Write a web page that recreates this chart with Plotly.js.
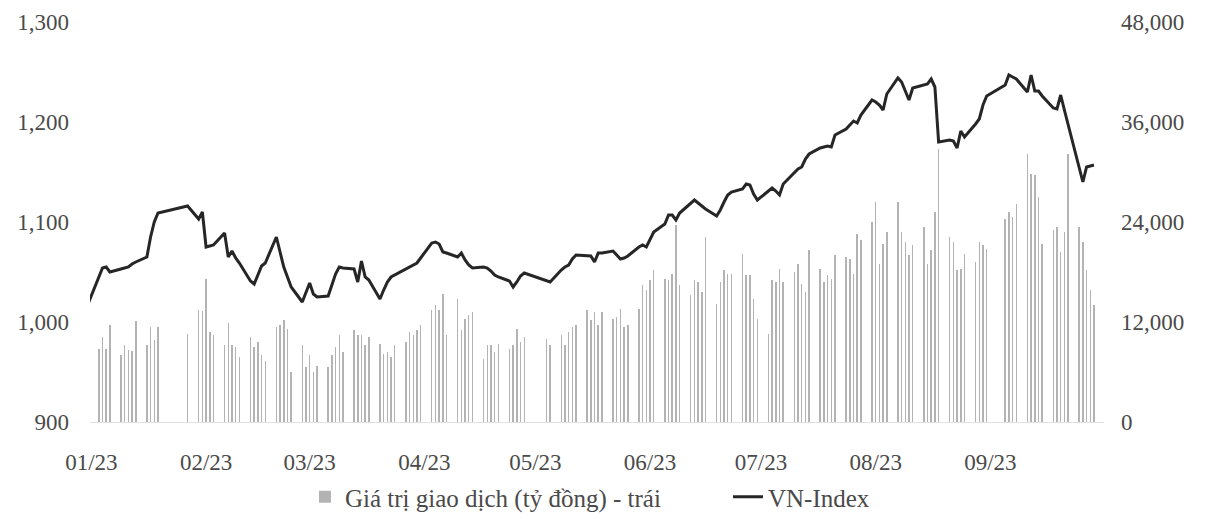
<!DOCTYPE html>
<html>
<head>
<meta charset="utf-8">
<script src="https://cdn.plot.ly/plotly-3.0.1.min.js"></script>
<style>html,body{margin:0;padding:0;background:#fff;}#chart{width:1211px;height:519px;}</style>
</head>
<body>
<div id="chart"></div>
<script>
// Trading days (Dec 30, 2022 – Sep 29, 2023)
const dates = [
  '2022-12-30',
  '2023-01-03','2023-01-04','2023-01-05','2023-01-06','2023-01-09','2023-01-10','2023-01-11','2023-01-12','2023-01-13','2023-01-16','2023-01-17','2023-01-18','2023-01-19','2023-01-27','2023-01-30','2023-01-31',
  '2023-02-01','2023-02-02','2023-02-03','2023-02-06','2023-02-07','2023-02-08','2023-02-09','2023-02-10','2023-02-13','2023-02-14','2023-02-15','2023-02-16','2023-02-17','2023-02-20','2023-02-21','2023-02-22','2023-02-23','2023-02-24','2023-02-27','2023-02-28',
  '2023-03-01','2023-03-02','2023-03-03','2023-03-06','2023-03-07','2023-03-08','2023-03-09','2023-03-10','2023-03-13','2023-03-14','2023-03-15','2023-03-16','2023-03-17','2023-03-20','2023-03-21','2023-03-22','2023-03-23','2023-03-24','2023-03-27','2023-03-28','2023-03-29','2023-03-30','2023-03-31',
  '2023-04-03','2023-04-04','2023-04-05','2023-04-06','2023-04-07','2023-04-10','2023-04-11','2023-04-12','2023-04-13','2023-04-14','2023-04-17','2023-04-18','2023-04-19','2023-04-20','2023-04-21','2023-04-24','2023-04-25','2023-04-26','2023-04-27','2023-04-28',
  '2023-05-04','2023-05-05','2023-05-08','2023-05-09','2023-05-10','2023-05-11','2023-05-12','2023-05-15','2023-05-16','2023-05-17','2023-05-18','2023-05-19','2023-05-22','2023-05-23','2023-05-24','2023-05-25','2023-05-26','2023-05-29','2023-05-30','2023-05-31',
  '2023-06-01','2023-06-02','2023-06-05','2023-06-06','2023-06-07','2023-06-08','2023-06-09','2023-06-12','2023-06-13','2023-06-14','2023-06-15','2023-06-16','2023-06-19','2023-06-20','2023-06-21','2023-06-22','2023-06-23','2023-06-26','2023-06-27','2023-06-28','2023-06-29','2023-06-30',
  '2023-07-03','2023-07-04','2023-07-05','2023-07-06','2023-07-07','2023-07-10','2023-07-11','2023-07-12','2023-07-13','2023-07-14','2023-07-17','2023-07-18','2023-07-19','2023-07-20','2023-07-21','2023-07-24','2023-07-25','2023-07-26','2023-07-27','2023-07-28','2023-07-31',
  '2023-08-01','2023-08-02','2023-08-03','2023-08-04','2023-08-07','2023-08-08','2023-08-09','2023-08-10','2023-08-11','2023-08-14','2023-08-15','2023-08-16','2023-08-17','2023-08-18','2023-08-21','2023-08-22','2023-08-23','2023-08-24','2023-08-25','2023-08-28','2023-08-29','2023-08-30','2023-08-31',
  '2023-09-05','2023-09-06','2023-09-07','2023-09-08','2023-09-11','2023-09-12','2023-09-13','2023-09-14','2023-09-15','2023-09-18','2023-09-19','2023-09-20','2023-09-21','2023-09-22','2023-09-25','2023-09-26','2023-09-27','2023-09-28','2023-09-29'
];

// VN-Index (left axis)
const vnIndex = [
  1008,
  1044,1054,1055,1050,1053,1054,1055,1058,1060,1065,1085,1100,1109,1116,1103,1110,
  1075,1076,1077,1089,1065,1071,1064,1059,1041,1038,1047,1056,1059,1085,1070,1055,1045,1035,1020,1030,
  1039,1028,1025,1026,1036,1048,1055,1054,1053,1040,1061,1045,1042,1023,1032,1040,1045,1047,1053,1055,1057,1059,1064,
  1079,1080,1078,1070,1069,1065,1069,1062,1057,1054,1055,1054,1051,1047,1045,1041,1035,1040,1046,1049,
  1041,1040,1052,1055,1057,1063,1067,1066,1066,1060,1069,1069,1071,1067,1063,1064,1066,1075,1077,1075,
  1083,1090,1098,1107,1107,1102,1109,1119,1122,1119,1116,1113,1106,1112,1120,1127,1130,1133,1138,1137,1128,1122,
  1131,1134,1131,1127,1138,1150,1153,1155,1163,1168,1174,1175,1176,1175,1187,1193,1197,1201,1199,1207,1222,
  1220,1217,1212,1228,1244,1240,1230,1222,1234,1237,1238,1243,1235,1180,1182,1181,1174,1191,1185,1198,1203,1217,1226,
  1237,1247,1245,1243,1230,1247,1231,1231,1226,1214,1213,1227,1212,1198,1155,1140,1155,1156,1157
];

// Trading value, billion VND (right axis)
const tradingValue = [
  null,
  8760,10200,8760,11640,8040,9240,8640,8520,12120,9240,11400,9840,11400,10560,13440,13320,
  17160,10800,10440,9240,11880,9240,9000,7800,10200,9000,9600,8040,7320,11400,11640,12240,11160,6000,9240,6600,
  8040,6000,6720,6600,8040,9000,10440,8400,11040,10440,10440,9240,10200,9360,8160,8400,7800,9240,9600,10800,10440,11040,11640,
  13440,14040,13440,15360,10440,14760,11040,12360,12840,13200,7560,9240,9240,8400,9360,8760,9240,11160,9600,10200,
  9960,9240,10440,9240,10800,11400,11640,13440,12240,13200,11640,13200,12360,12600,13560,11400,11640,13560,16440,15840,
  17040,18240,17160,17040,17760,23640,16440,15240,17040,16800,15600,22200,14160,16800,18240,17760,17760,20160,17640,17640,14760,12360,
  10560,17040,16800,18360,16800,18000,18960,16560,15600,20640,18360,16800,17640,17160,20040,19800,19560,17760,22560,21840,24000,
  26400,18960,21360,22800,26400,22800,21600,20040,21240,23400,18960,20640,25200,32760,22200,21600,18240,18360,20160,19200,21600,21240,20760,
  24360,25200,24600,26160,32160,29760,29640,27000,21360,23040,23400,20400,22800,32160,23400,21600,18240,15840,14040
];

// Month tick positions shown on the x axis
const monthTicks = ['2023-01-01','2023-02-01','2023-03-01','2023-04-01','2023-05-01','2023-06-01','2023-07-01','2023-08-01','2023-09-01'];
const monthLabels = ['01/23','02/23','03/23','04/23','05/23','06/23','07/23','08/23','09/23'];

const barName = 'Giá trị giao dịch (tỷ đồng) - trái';
const lineName = 'VN-Index';

const font = {family: 'Liberation Serif, Times New Roman, serif', size: 23, color: '#4a4a4a'};
const legendFont = {family: 'Liberation Serif, Times New Roman, serif', size: 25, color: '#4a4a4a'};

const traces = [
  {
    type: 'bar', x: dates, y: tradingValue, name: barName, yaxis: 'y',
    width: 0.4 * 86400000,
    marker: {color: '#b3b3b3', line: {width: 0}},
    hoverinfo: 'x+y'
  },
  {
    type: 'scatter', mode: 'lines', x: dates, y: vnIndex, name: lineName, yaxis: 'y2',
    line: {color: '#262626', width: 3}
  }
];

const layout = {
  width: 1211, height: 519,
  margin: {l: 90, r: 107, t: 22, b: 97, autoexpand: false},
  paper_bgcolor: '#ffffff', plot_bgcolor: '#ffffff',
  font: font,
  showlegend: true,
  bargap: 0,
  xaxis: {
    type: 'date', automargin: false,
    range: ['2022-12-31 15:00', '2023-10-01 17:00'],
    tickmode: 'array', tickvals: monthTicks, ticktext: monthLabels,
    showgrid: false, zeroline: false,
    showline: true, linecolor: '#e0e0e0', linewidth: 1,
    ticks: '', ticklabelstandoff: 19,
    tickfont: font
  },
  yaxis: {
    side: 'right', range: [0, 48000], dtick: 12000, tickformat: ',d', automargin: false,
    showgrid: false, zeroline: false, showline: false, ticks: '',
    ticklabelstandoff: 16, tickfont: font
  },
  yaxis2: {
    side: 'left', overlaying: 'y', range: [900, 1300], dtick: 100, tickformat: ',d', automargin: false,
    showgrid: false, zeroline: false, showline: false, ticks: '',
    ticklabelstandoff: 20, tickfont: font
  },
  legend: {
    orientation: 'h', x: 0.212, xanchor: 'left', y: -0.1875, yanchor: 'middle',
    font: legendFont, itemwidth: 30, tracegroupgap: 0,
    entrywidth: 378, entrywidthmode: 'pixels'
  }
};

Plotly.newPlot('chart', traces, layout, {displayModeBar: false, staticPlot: true});
</script>
</body>
</html>
